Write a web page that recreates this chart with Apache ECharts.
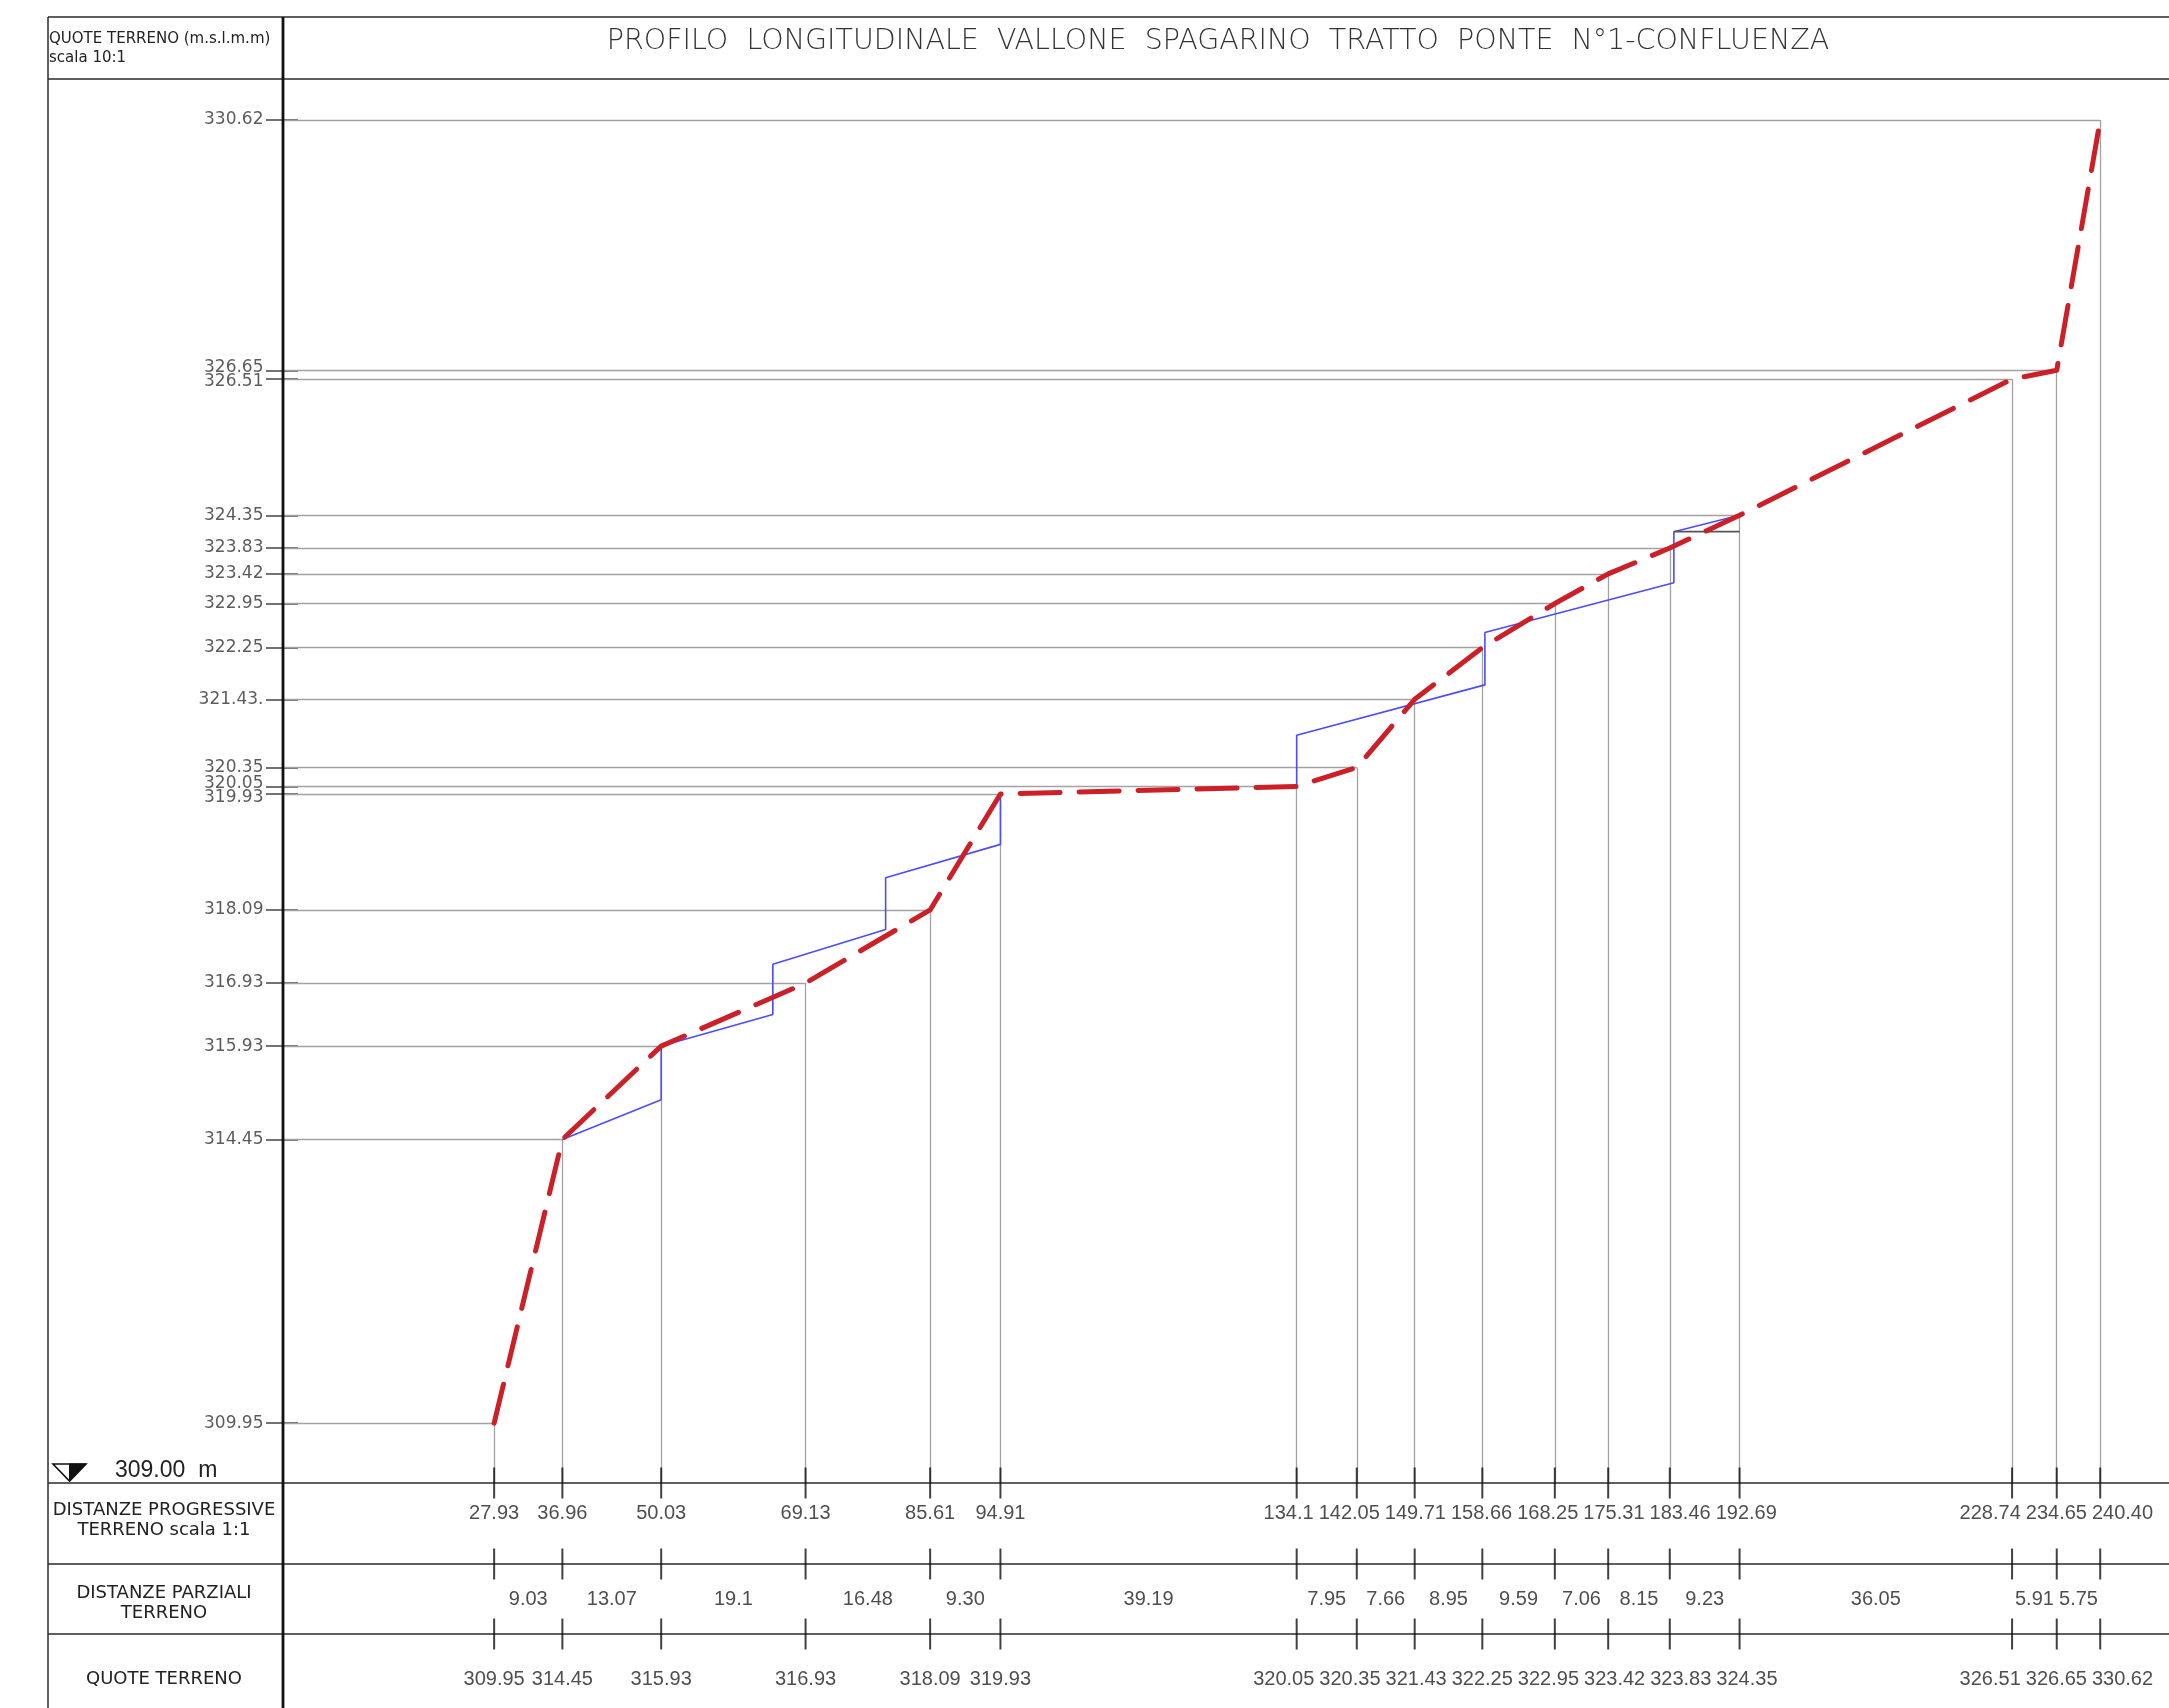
<!DOCTYPE html>
<html>
<head>
<meta charset="utf-8">
<script src="https://cdn.jsdelivr.net/npm/echarts@6.0.0/dist/echarts.min.js"></script>
<style>html,body{margin:0;padding:0;background:#fff}#c{width:2169px;height:1708px}</style>
</head>
<body>
<div id="c"></div>
<script>
// ---------------- DATA ----------------
const stations = [27.93, 36.96, 50.03, 69.13, 85.61, 94.91, 134.1, 142.05, 149.71, 158.66, 168.25, 175.31, 183.46, 192.69, 228.74, 234.65, 240.40];
const stationLabels = ['27.93','36.96','50.03','69.13','85.61','94.91','134.1','142.05','149.71','158.66','168.25','175.31','183.46','192.69','228.74','234.65','240.40'];
const elevations = [309.95, 314.45, 315.93, 316.93, 318.09, 319.93, 320.05, 320.35, 321.43, 322.25, 322.95, 323.42, 323.83, 324.35, 326.51, 326.65, 330.62];
const elevationLabels = ['309.95','314.45','315.93','316.93','318.09','319.93','320.05','320.35','321.43','322.25','322.95','323.42','323.83','324.35','326.51','326.65','330.62'];
const yTickLabels = ['309.95','314.45','315.93','316.93','318.09','319.93','320.05','320.35','321.43.','322.25','322.95','323.42','323.83','324.35','326.51','326.65','330.62'];
const partialLabels = ['9.03','13.07','19.1','16.48','9.30','39.19','7.95','7.66','8.95','9.59','7.06','8.15','9.23','36.05','5.91','5.75'];
const datum = 309.00;
const blueProfileA = [[36.96,314.45],[50.03,315.08],[50.03,315.93],[64.8,316.43],[64.8,317.23],[79.72,317.78],[79.72,318.60],[94.91,319.13],[94.91,319.93]];
const blueProfileB = [[134.1,320.05],[134.1,320.86],[159.0,321.66],[159.0,322.49],[184.0,323.28],[184.0,324.09],[192.69,324.35]];
const sillLine = [[184.0,324.09],[192.69,324.09]];
const titleText = 'PROFILO  LONGITUDINALE  VALLONE  SPAGARINO  TRATTO  PONTE  N°1-CONFLUENZA';

// ---------------- LAYOUT ----------------
const W = 2169, H = 1708;
const FL = 48, DIV = 283, TOP = 17, TROW = 79, BASE = 1483, R2 = 1564, R3 = 1634;
const XMAX = 249.5, YMAX = 331.27;
const ROW_LINE = [0, R2 - BASE, R3 - BASE];
const ROW_TEXT = [30, 116, 196];
const TABLE_H = H - BASE;
const NUM_SIZE = 20, YLAB_SIZE = 17;

const numFont = "'Liberation Sans', Arial, sans-serif";
const txtFont = "'DejaVu Sans', sans-serif";

// text measuring and overlap spreading (layout only)
const mctx = document.createElement('canvas').getContext('2d');
function measure(t, size, fam) { mctx.font = size + 'px ' + fam; return mctx.measureText(t).width; }
function spread(cs, ws, gap, lo, hi) {
  let g = cs.map((c, i) => ({s: i, e: i}));
  const place = grp => {
    let acc = 0, sum = 0, n = 0;
    for (let i = grp.s; i <= grp.e; i++) { sum += cs[i] - (acc + ws[i] / 2); acc += ws[i] + gap; n++; }
    const tot = acc - gap;
    let L = sum / n;
    L = Math.max(lo, Math.min(L, hi - tot));
    return {L, tot};
  };
  let merged = true;
  while (merged) {
    merged = false;
    for (let k = 0; k < g.length - 1; k++) {
      const a = place(g[k]), b = place(g[k + 1]);
      if (a.L + a.tot + gap > b.L) { g[k] = {s: g[k].s, e: g[k + 1].e}; g.splice(k + 1, 1); merged = true; break; }
    }
  }
  const out = [];
  g.forEach(grp => { let x = place(grp).L; for (let i = grp.s; i <= grp.e; i++) { out[i] = x + ws[i] / 2; x += ws[i] + gap; } });
  return out;
}
const pxX = x => DIV + x / XMAX * (W - DIV);
const pxY = v => TROW + (YMAX - v) / (YMAX - datum) * (BASE - TROW);

function rowItems(xs, labels) {
  const cs = xs.map(pxX);
  const ws = labels.map(t => measure(t, NUM_SIZE, numFont));
  const out = spread(cs, ws, 5, DIV + 2, W - 2);
  return xs.map((x, i) => ({value: [x, 0], label: {offset: [out[i] - cs[i], 0]}}));
}

const chart = echarts.init(document.getElementById('c'), null, {renderer: 'canvas'});

const profile = stations.map((x, i) => [x, elevations[i]]);
const guides = [];
stations.forEach((x, i) => {
  guides.push({coords: [[0, elevations[i]], [x, elevations[i]]]});
  guides.push({coords: [[x, elevations[i]], [x, datum]]});
});
const tickMarks = [];
ROW_LINE.forEach(r => stations.forEach(x => tickMarks.push([x, r])));
const mids = partialLabels.map((_, i) => (stations[i] + stations[i + 1]) / 2);

const row1 = rowItems(stations, stationLabels);  row1.forEach(d => d.value[1] = ROW_TEXT[0]);
const row2 = rowItems(mids, partialLabels);      row2.forEach(d => d.value[1] = ROW_TEXT[1]);
const row3 = rowItems(stations, elevationLabels); row3.forEach(d => d.value[1] = ROW_TEXT[2]);

// y tick labels, spread vertically where they collide
const yOrder = elevations.map((v, i) => i).sort((a, b) => elevations[b] - elevations[a]);
const yCs = yOrder.map(i => pxY(elevations[i]));
const yOut = spread(yCs, yOrder.map(() => 14), 0, TROW, BASE);
const yLabItems = elevations.map((v, i) => ({value: [0, v], label: {offset: [0, 0]}}));
yOrder.forEach((i, k) => { yLabItems[i].label.offset = [0, yOut[k] - yCs[k]]; });

// frame + texts
const G = [];
const line = (x1, y1, x2, y2, w, c) => G.push({type: 'line', silent: true, z: 50,
  shape: {x1, y1, x2, y2}, style: {stroke: c || '#2a2a2a', lineWidth: w || 1.5}});
const text = (t, x, y, size, extra) => G.push({type: 'text', silent: true, z: 60, x, y,
  style: Object.assign({text: t, fontSize: size, fontFamily: txtFont, fill: '#222', align: 'center', verticalAlign: 'middle'}, extra || {})});

[TOP, TROW, BASE, R2, R3].forEach(y => line(FL, y, W, y, 1.5));
line(FL, TOP, FL, H, 1.5);
line(DIV, TOP, DIV, H, 2.8, '#111');

text('QUOTE TERRENO (m.s.l.m.m)', FL + 1, 39, 15, {align: 'left'});
text('scala 10:1', FL + 1, 58, 15, {align: 'left'});
text(titleText, 1218, 42, 28.5, {fill: '#333', fontWeight: 200});
text('DISTANZE PROGRESSIVE', 164, 1510, 18);
text('TERRENO scala 1:1', 164, 1530, 18);
text('DISTANZE PARZIALI', 164, 1593, 18);
text('TERRENO', 164, 1613, 18);
text('QUOTE TERRENO', 164, 1679, 18);
text(datum.toFixed(2) + '  m', 115, 1471, 23, {align: 'left', fontFamily: numFont});
G.push({type: 'polygon', silent: true, z: 60, shape: {points: [[53, 1464], [86, 1464], [69.5, 1481]]},
  style: {fill: '#fff', stroke: '#111', lineWidth: 1.6}});
G.push({type: 'polygon', silent: true, z: 61, shape: {points: [[69.5, 1464], [86, 1464], [69.5, 1481]]},
  style: {fill: '#111', stroke: '#111', lineWidth: 1}});

const rowLabel = (labels) => ({
  show: true, position: 'inside', formatter: p => labels[p.dataIndex],
  color: '#222', fontSize: NUM_SIZE, fontFamily: numFont
});
const hidden = {symbolSize: 1, itemStyle: {color: 'rgba(0,0,0,0)'}, silent: true, z: 20};

const option = {
  animation: false,
  backgroundColor: '#fff',
  grid: [
    {left: DIV, right: 0, top: TROW, height: BASE - TROW},
    {left: DIV, right: 0, top: BASE, height: TABLE_H}
  ],
  xAxis: [
    {type: 'value', gridIndex: 0, min: 0, max: XMAX, show: false},
    {type: 'value', gridIndex: 1, min: 0, max: XMAX, show: false}
  ],
  yAxis: [
    {type: 'value', gridIndex: 0, position: 'left', min: datum, max: YMAX, splitLine: {show: false},
      axisLine: {show: false}, axisLabel: {show: false},
      axisTick: {show: true, customValues: elevations, length: 17, lineStyle: {color: '#444', width: 1.5}}},
    {type: 'value', gridIndex: 0, position: 'left', offset: 0, min: datum, max: YMAX, splitLine: {show: false},
      axisLine: {show: false}, axisLabel: {show: false},
      axisTick: {show: true, inside: true, customValues: elevations, length: 15, lineStyle: {color: '#444', width: 1.5}}},
    {type: 'value', gridIndex: 1, min: 0, max: TABLE_H, inverse: true, show: false}
  ],
  graphic: G,
  series: [
    {type: 'lines', coordinateSystem: 'cartesian2d', xAxisIndex: 0, yAxisIndex: 0, z: 1, silent: true,
      data: guides, lineStyle: {color: '#a2a2a2', width: 1.3, opacity: 1}},
    {type: 'line', xAxisIndex: 0, yAxisIndex: 0, data: blueProfileA, symbol: 'none', z: 3,
      lineStyle: {color: '#4b4bff', width: 1.6}},
    {type: 'line', xAxisIndex: 0, yAxisIndex: 0, data: blueProfileB, symbol: 'none', z: 3,
      lineStyle: {color: '#4b4bff', width: 1.6}},
    {type: 'line', xAxisIndex: 0, yAxisIndex: 0, data: sillLine, symbol: 'none', z: 3,
      lineStyle: {color: '#555', width: 1.6}},
    {type: 'line', xAxisIndex: 0, yAxisIndex: 0, data: profile, symbol: 'none', z: 5,
      lineStyle: {color: '#cc2029', width: 5, type: [40, 19], cap: 'round', join: 'round'}},
    Object.assign({type: 'scatter', xAxisIndex: 0, yAxisIndex: 0, data: yLabItems,
      label: {show: true, position: 'left', distance: 19, formatter: p => yTickLabels[p.dataIndex],
        color: '#333', fontSize: YLAB_SIZE, fontFamily: txtFont}}, hidden),
    {type: 'scatter', xAxisIndex: 1, yAxisIndex: 2, data: tickMarks, symbol: 'rect', symbolSize: [2, 31],
      itemStyle: {color: '#111'}, silent: true, z: 55},
    Object.assign({type: 'scatter', xAxisIndex: 1, yAxisIndex: 2, data: row1, label: rowLabel(stationLabels)}, hidden),
    Object.assign({type: 'scatter', xAxisIndex: 1, yAxisIndex: 2, data: row2, label: rowLabel(partialLabels)}, hidden),
    Object.assign({type: 'scatter', xAxisIndex: 1, yAxisIndex: 2, data: row3, label: rowLabel(elevationLabels)}, hidden)
  ]
};
chart.setOption(option);
</script>
</body>
</html>
